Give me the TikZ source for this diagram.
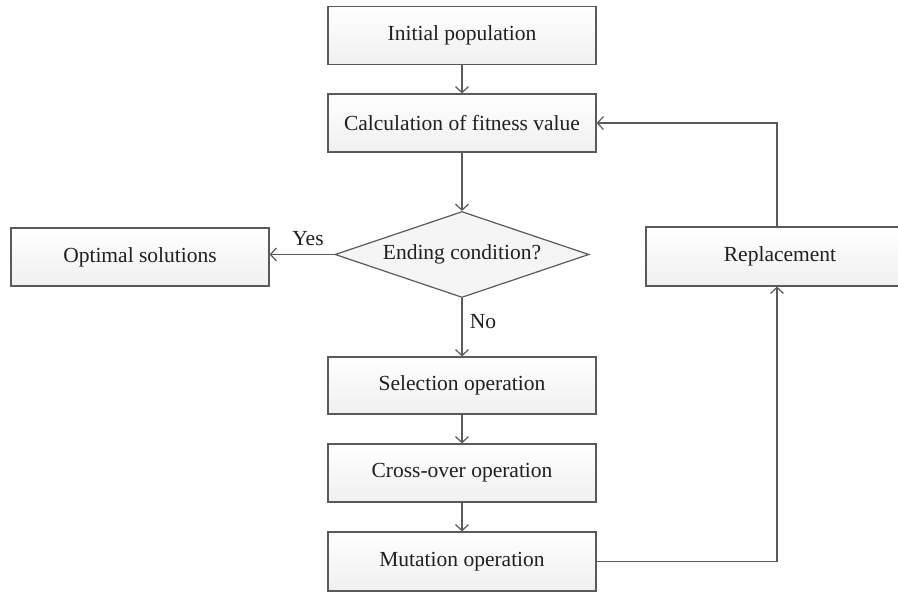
\documentclass[tikz,border=0pt]{standalone}
\usepackage{fontspec}
\setmainfont{Liberation Serif}
\usetikzlibrary{shapes.geometric,arrows.meta}
\definecolor{edgec}{HTML}{5A5A5A}
\definecolor{txtc}{HTML}{231F20}
\begin{document}
\begin{tikzpicture}[x=1pt,y=-1pt,
  font=\fontsize{21.5}{24}\selectfont,
  box/.style={draw=edgec, line width=1.2pt, rectangle, top color=white, bottom color=black!6,
    minimum width=268pt, minimum height=58pt, inner sep=0pt, text=txtc},
  decis/.style={draw=edgec, line width=1.2pt, diamond, fill=black!4, aspect=2.95,
    minimum width=254pt, minimum height=86pt, inner sep=0pt, text=txtc},
  arr/.style={draw=edgec, line width=1.2pt, -{Straight Barb[length=6pt,width=13pt]}},
  ln/.style={draw=edgec, line width=1.2pt},
  lab/.style={text=txtc, inner sep=0pt}]
\clip (0,0) rectangle (898,592);
\fill[white] (0,0) rectangle (898,592);
\node[box] (init) at (462,35.5) {Initial population};
\node[box] (calc) at (462,123) {Calculation of fitness value};
\node[decis] (dec) at (462,254.5) {Ending condition?};
\node[box, minimum width=258pt] (opt) at (140,257) {Optimal solutions};
\node[box, minimum height=59pt] (rep) at (780,256.5) {Replacement};
\node[box, minimum height=57pt] (sel) at (462,385.5) {Selection operation};
\node[box] (cross) at (462,473) {Cross-over operation};
\node[box, minimum height=59pt] (mut) at (462,561.5) {Mutation operation};
\coordinate (loop) at (777,561.5);
\draw[arr] (init) -- (calc);
\draw[arr] (calc) -- (dec);
\draw[arr] (dec.west) -- (dec.west -| opt.east);
\node[lab] (yes) at (308,239) {Yes};
\draw[arr] (dec.south) -- (sel.north);
\node[lab] (no) at (483,322) {No};
\draw[arr] (sel) -- (cross);
\draw[arr] (cross) -- (mut);
\draw[arr] (mut.east) -- (loop) -- (loop |- rep.south);
\draw[arr] (loop |- rep.north) |- (calc.east);
\end{tikzpicture}
\end{document}
